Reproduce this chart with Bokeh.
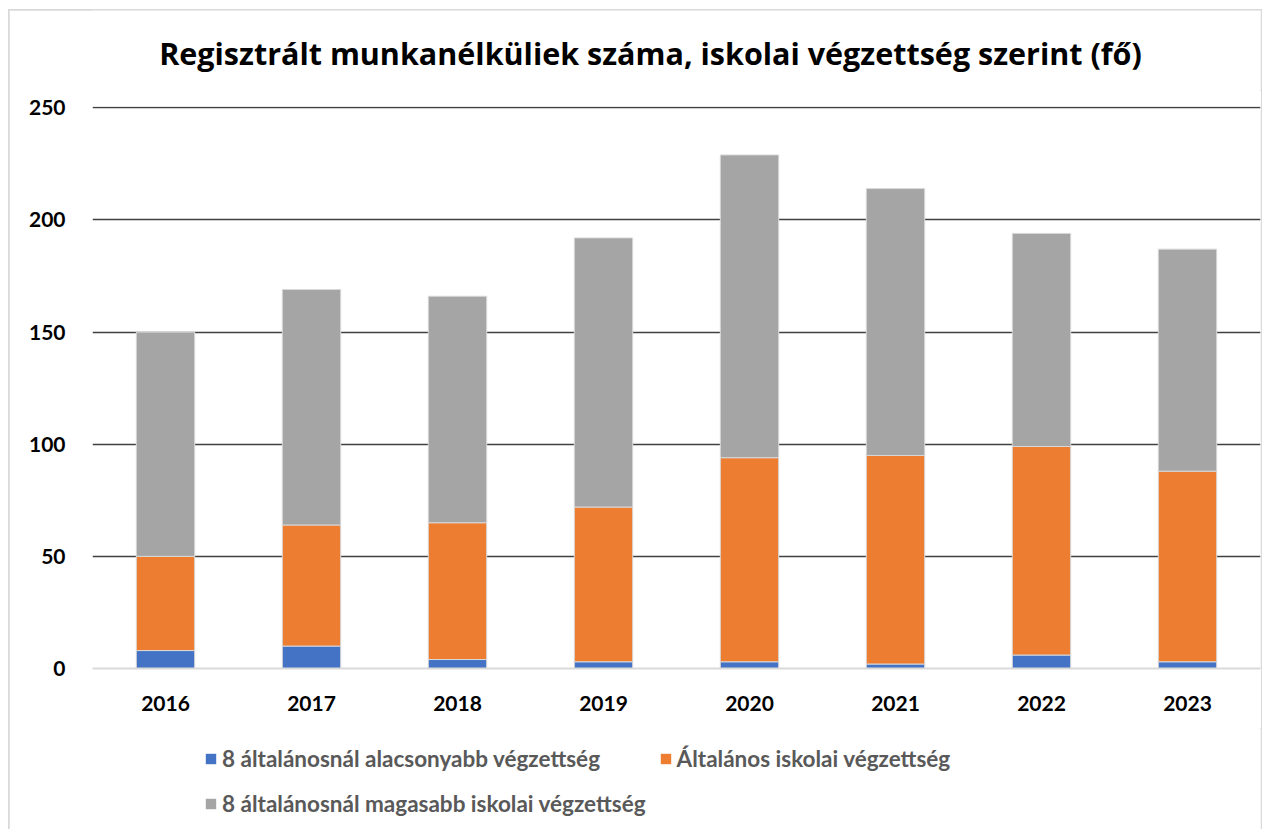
from bokeh.plotting import figure
from bokeh.layouts import column
from bokeh.models import Legend, LegendItem, Range1d, FactorRange, SingleIntervalTicker
from bokeh.core.properties import value
from bokeh.embed import file_html
from bokeh.resources import INLINE

years = ["2016", "2017", "2018", "2019", "2020", "2021", "2022", "2023"]
lower = [8, 10, 4, 3, 3, 2, 6, 3]
primary = [42, 54, 61, 69, 91, 93, 93, 85]
higher = [100, 105, 101, 120, 135, 119, 95, 99]
series = ["lower", "primary", "higher"]
labels = ["8 általánosnál alacsonyabb végzettség",
          "Általános iskolai végzettség",
          "8 általánosnál magasabb iskolai végzettség"]
colors = ["#4472C4", "#ED7D31", "#A5A5A5"]
title_text = "Regisztrált munkanélküliek száma, iskolai végzettség szerint (fő)"

FONT = "Lato"
W = 1252
FW = 1168

# ---- title strip ----
p0 = figure(width=W, height=80, x_range=Range1d(0, FW), y_range=Range1d(0, 80),
            min_border_left=83, min_border_right=1, min_border_top=0, min_border_bottom=0,
            x_axis_location=None, y_axis_location=None,
            title_location=None, output_backend="svg", toolbar_location=None)
p0.outline_line_color = None
p0.grid.visible = False
p0.text(x=[558], y=[38], text=[title_text], text_align="center",
        text_baseline="alphabetic", text_font=value("Open Sans"),
        text_font_size="30.5px", text_font_style="bold", text_color="#000000")

# ---- main chart ----
p = figure(x_range=FactorRange(*years, range_padding=0), y_range=Range1d(0, 250.6),
           width=W, height=638, title_location=None,
           min_border_left=83, min_border_right=1, min_border_top=16, min_border_bottom=60,
           output_backend="svg", toolbar_location=None)

data = dict(years=years, lower=lower, primary=primary, higher=higher)
p.vbar_stack(series, x="years", width=0.4, color=colors, source=data,
             line_color="#d9d9d9", line_width=1)

p.outline_line_color = None
p.xgrid.grid_line_color = None
p.ygrid.grid_line_color = "#404040"
p.ygrid.grid_line_width = 1.5
p.yaxis.ticker = SingleIntervalTicker(interval=50)

p.yaxis.axis_line_color = None
p.yaxis.major_tick_line_color = None
p.yaxis.minor_tick_line_color = None
p.yaxis.major_label_standoff = 21
p.xaxis.axis_line_color = "#d9d9d9"
p.xaxis.axis_line_width = 2
p.xaxis.major_tick_line_color = None
p.xaxis.major_label_standoff = 21
for ax in (p.xaxis, p.yaxis):
    ax.major_label_text_font = FONT
    ax.major_label_text_font_size = "21px"
    ax.major_label_text_font_style = "bold"
    ax.major_label_text_color = "#000000"

# ---- legend strip (separate figure so the legend is not clipped) ----
p2 = figure(width=W, height=101, min_border_left=83, min_border_right=1,
            min_border_top=0, min_border_bottom=0,
            x_axis_location=None, y_axis_location=None,
            x_range=FactorRange(*years), y_range=Range1d(-1000, -900), title_location=None,
            output_backend="svg", toolbar_location=None)
p2.outline_line_color = None
p2.grid.visible = False
swatches = p2.vbar_stack(series, x="years", width=0, color=colors,
                         source=data, line_color=None)
items = [LegendItem(label=labels[i], renderers=[swatches[i]]) for i in range(3)]
legend = Legend(items=items, ncols=2, orientation="horizontal", location=(112, 10),
                label_text_font=FONT, label_text_font_size="22.5px",
                label_text_font_style="bold", label_text_color="#595959",
                glyph_width=13, glyph_height=13, label_standoff=5, spacing=13,
                border_line_color=None, background_fill_alpha=0, margin=0,
                padding=0, label_height=32)
legend.item_background_fill_alpha = 0
p2.add_layout(legend, "center")

layout = column(p0, p, p2, spacing=0)
layout.margin = (10, 0, 0, 9)
layout.styles = {"outline": "2px solid #d9d9d9", "outline-offset": "-1px"}

open("out.html", "w").write(file_html(layout, INLINE))
